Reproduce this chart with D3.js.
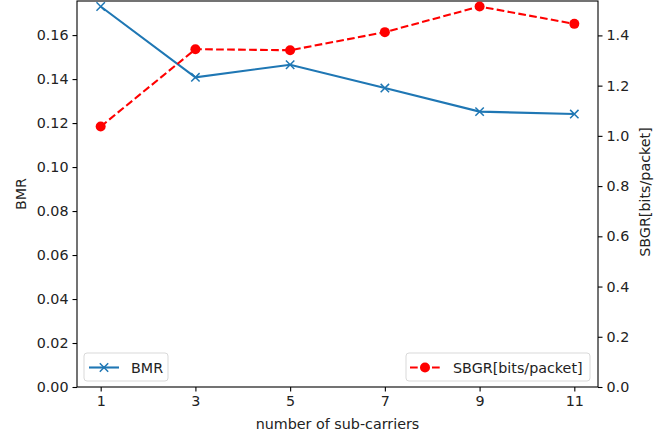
<!DOCTYPE html>
<html>
<head>
<meta charset="utf-8">
<script src="https://cdn.jsdelivr.net/npm/d3@7"></script>
<style>
  body { margin: 0; background: #fff; }
  svg { display: block; font-family: "DejaVu Sans", sans-serif; }
  text { fill: #222; }
</style>
</head>
<body>
<svg id="chart" width="664" height="437"></svg>
<script>
const carriers = [1, 3, 5, 7, 9, 11];
const bmr = [0.1730, 0.1408, 0.1465, 0.1359, 0.1252, 0.1241];
const sbgr = [1.037, 1.345, 1.341, 1.413, 1.515, 1.446];
const xTicks = [1, 3, 5, 7, 9, 11];
const leftTicks = [0, 0.02, 0.04, 0.06, 0.08, 0.10, 0.12, 0.14, 0.16];
const rightTicks = [0, 0.2, 0.4, 0.6, 0.8, 1.0, 1.2, 1.4];

const svg = d3.select("#chart");
const L = 77, R = 598, T = 1, B = 387;
const fs = 14.3;

const x = d3.scaleLinear().domain([0.5, 11.5]).range([L, R]);
const yL = d3.scaleLinear().domain([0, 0.1755]).range([B, T]);
const yR = d3.scaleLinear().domain([0, 1.537]).range([B, T]);

const blue = "#1f77b4", red = "#ff0000";

// axes
const ax = svg.append("g").attr("transform", `translate(0,${B})`)
  .call(d3.axisBottom(x).tickValues(xTicks).tickFormat(d3.format("d")).tickSize(4.5).tickPadding(4));
const ayl = svg.append("g").attr("transform", `translate(${L},0)`)
  .call(d3.axisLeft(yL).tickValues(leftTicks).tickFormat(d3.format(".2f")).tickSize(4.5).tickPadding(4));
const ayr = svg.append("g").attr("transform", `translate(${R},0)`)
  .call(d3.axisRight(yR).tickValues(rightTicks).tickFormat(d3.format(".1f")).tickSize(4.5).tickPadding(4));
[ax, ayl, ayr].forEach(g => {
  g.select(".domain").remove();
  g.selectAll(".tick line").attr("stroke", "#000").attr("stroke-width", 1.1);
  g.selectAll(".tick text").attr("font-size", fs).attr("fill", "#222").attr("font-family", "DejaVu Sans");
});

// frame
svg.append("rect").attr("x", L).attr("y", T).attr("width", R - L).attr("height", B - T)
  .attr("fill", "none").attr("stroke", "#000").attr("stroke-width", 1.1);

// lines
const lineL = d3.line().x((d, i) => x(carriers[i])).y(d => yL(d));
const lineR = d3.line().x((d, i) => x(carriers[i])).y(d => yR(d));

svg.append("path").datum(bmr).attr("d", lineL).attr("fill", "none")
  .attr("stroke", blue).attr("stroke-width", 2.1);
const xm = 4.2;
svg.selectAll(".xm").data(bmr).enter().append("path")
  .attr("d", (d, i) => {
    const cx = x(carriers[i]), cy = yL(d);
    return `M${cx - xm},${cy - xm}L${cx + xm},${cy + xm}M${cx - xm},${cy + xm}L${cx + xm},${cy - xm}`;
  })
  .attr("stroke", blue).attr("stroke-width", 1.5).attr("fill", "none");

svg.append("path").datum(sbgr).attr("d", lineR).attr("fill", "none")
  .attr("stroke", red).attr("stroke-width", 2.1).attr("stroke-dasharray", "7.7,3.3");
svg.selectAll(".cm").data(sbgr).enter().append("circle")
  .attr("cx", (d, i) => x(carriers[i])).attr("cy", d => yR(d)).attr("r", 5)
  .attr("fill", red);

// axis labels
svg.append("text").attr("x", (L + R) / 2).attr("y", 429).attr("text-anchor", "middle")
  .attr("font-size", fs).text("number of sub-carriers");
svg.append("text").attr("transform", `translate(26,${(T + B) / 2}) rotate(-90)`)
  .attr("text-anchor", "middle").attr("font-size", fs).text("BMR");
svg.append("text").attr("transform", `translate(650,${(T + B) / 2 - 2}) rotate(-90)`)
  .attr("text-anchor", "middle").attr("font-size", fs).text("SBGR[bits/packet]");

// legends
function legendBox(x0, x1, y0, y1) {
  svg.append("rect").attr("x", x0).attr("y", y0).attr("width", x1 - x0).attr("height", y1 - y0)
    .attr("rx", 3).attr("fill", "#fff").attr("fill-opacity", 0.8)
    .attr("stroke", "#d9d9d9").attr("stroke-width", 1);
}
const ly = 367.5;
legendBox(84, 168, 353, 381);
svg.append("line").attr("x1", 89).attr("x2", 119).attr("y1", ly).attr("y2", ly)
  .attr("stroke", blue).attr("stroke-width", 2.1);
svg.append("path").attr("d", `M${104 - xm},${ly - xm}L${104 + xm},${ly + xm}M${104 - xm},${ly + xm}L${104 + xm},${ly - xm}`)
  .attr("stroke", blue).attr("stroke-width", 1.5);
svg.append("text").attr("x", 131).attr("y", ly + 5).attr("font-size", fs).text("BMR");

legendBox(406, 590, 353, 381);
svg.append("line").attr("x1", 410).attr("x2", 440).attr("y1", ly).attr("y2", ly)
  .attr("stroke", red).attr("stroke-width", 2.1).attr("stroke-dasharray", "7.7,3.3");
svg.append("circle").attr("cx", 425).attr("cy", ly).attr("r", 5).attr("fill", red);
svg.append("text").attr("x", 453).attr("y", ly + 5).attr("font-size", fs).text("SBGR[bits/packet]");
</script>
</body>
</html>
